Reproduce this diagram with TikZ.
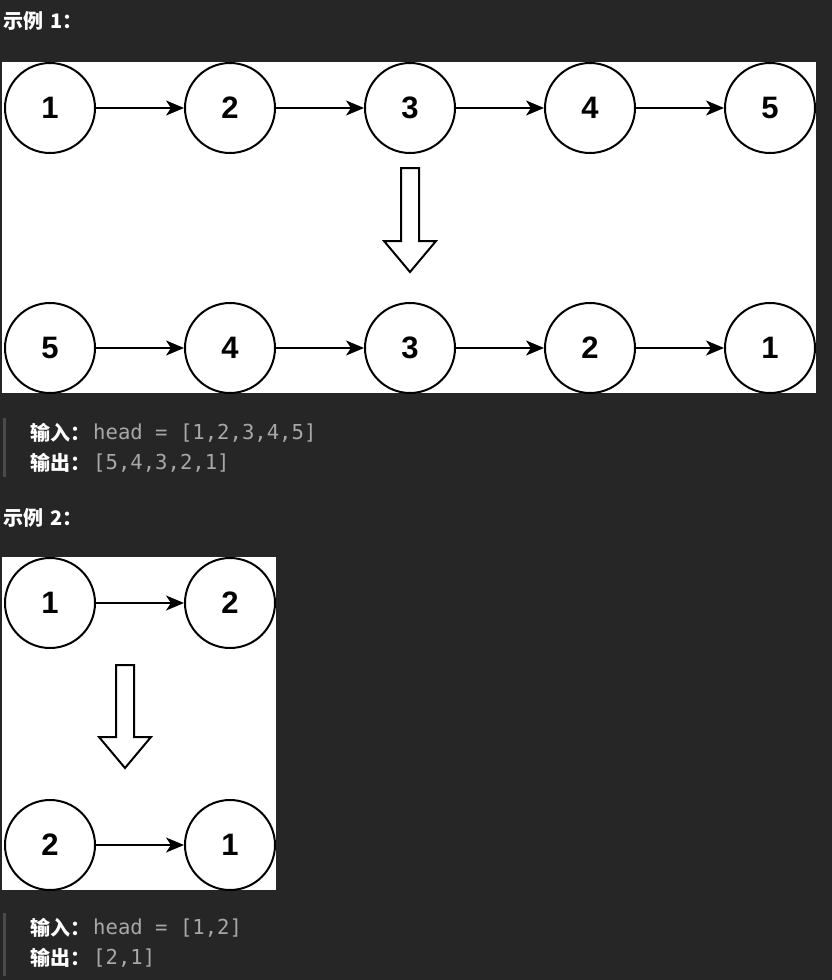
\documentclass[tikz,border=0pt]{standalone}
\usepackage{fontspec}
\setmainfont{Liberation Sans}
\newfontfamily\cjkfont{Noto Sans CJK SC}
\newfontfamily\codefont{DejaVu Sans Mono}
\usetikzlibrary{arrows.meta}
\definecolor{cbg}{HTML}{262626}
\definecolor{ccode}{HTML}{A8A8A8}
\definecolor{cbar}{HTML}{4A4A4A}

\begin{document}
\begin{tikzpicture}[
  x=1pt, y=-1pt,
  listnode/.style={
    circle, draw=black, fill=white, line width=2pt,
    minimum size=90pt, inner sep=0pt,
    font=\bfseries\fontsize{31}{31}\selectfont
  },
  nextarrow/.style={
    -{Stealth[length=18pt, width=15pt, inset=5pt]}, line width=2pt
  },
  hollowarrow/.style={
    draw=black, fill=white, line width=2pt, line join=miter
  },
  heading/.style={
    white, anchor=west, inner sep=0pt,
    font=\cjkfont\bfseries\fontsize{20}{20}\selectfont
  },
  codetext/.style={
    ccode, anchor=west, inner sep=0pt,
    font=\codefont\fontsize{20.6}{20.6}\selectfont
  }
]

% background and white canvases
\fill[cbg] (0,0) rectangle (832,980);
\fill[white] (2,62) rectangle (816,393);
\fill[white] (2,557) rectangle (276,890);

% ============================================================
% Example 1
% ============================================================
\node[heading] (title1) at (3,21) {示例\hspace{7pt}1：};

% original list
\foreach \v [count=\i] in {1,2,3,4,5} {
  \node[listnode] (a\i) at ({50+180*(\i-1)}, 108) {\v};
}
% reversed list
\foreach \v [count=\i] in {5,4,3,2,1} {
  \node[listnode] (b\i) at ({50+180*(\i-1)}, 348) {\v};
}
\foreach \i/\j in {1/2, 2/3, 3/4, 4/5} {
  \draw[nextarrow] (a\i) -- (a\j);
  \draw[nextarrow] (b\i) -- (b\j);
}

% big hollow arrow
\coordinate (turn1) at (410,168);
\draw[hollowarrow] (turn1) ++(-9,0) -- ++(18,0) -- ++(0,73) -- ++(17,0)
  -- ++(-26,31) -- ++(-26,-31) -- ++(17,0) -- cycle;

% input / output
\fill[cbar] (3,418) rectangle (6,477);
\node[heading] (in1) at (30,433) {输入：};
\node[codetext] (in1v) at (93,433) {head = [1,2,3,4,5]};
\node[heading] (out1) at (30,463) {输出：};
\node[codetext] (out1v) at (93,463) {[5,4,3,2,1]};

% ============================================================
% Example 2
% ============================================================
\node[heading] (title2) at (3,518) {示例\hspace{7pt}2：};

\foreach \v [count=\i] in {1,2} {
  \node[listnode] (c\i) at ({50+180*(\i-1)}, 603) {\v};
}
\foreach \v [count=\i] in {2,1} {
  \node[listnode] (d\i) at ({50+180*(\i-1)}, 845) {\v};
}
\draw[nextarrow] (c1) -- (c2);
\draw[nextarrow] (d1) -- (d2);

\coordinate (turn2) at (125,665);
\draw[hollowarrow] (turn2) ++(-9,0) -- ++(18,0) -- ++(0,72) -- ++(17,0)
  -- ++(-26,31) -- ++(-26,-31) -- ++(17,0) -- cycle;

\fill[cbar] (3,913) rectangle (6,976);
\node[heading] (in2) at (30,928) {输入：};
\node[codetext] (in2v) at (93,928) {head = [1,2]};
\node[heading] (out2) at (30,958) {输出：};
\node[codetext] (out2v) at (93,958) {[2,1]};

\end{tikzpicture}
\end{document}
